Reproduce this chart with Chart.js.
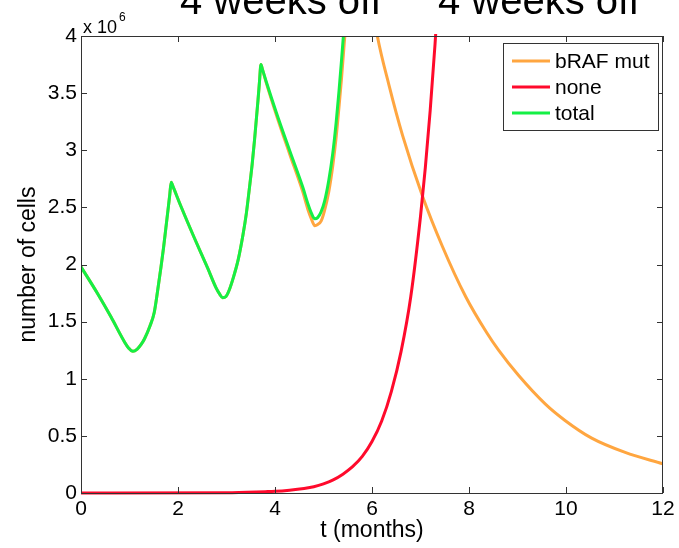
<!DOCTYPE html>
<html>
<head>
<meta charset="utf-8">
<script src="https://cdn.jsdelivr.net/npm/chart.js@4"></script>
<style>
  html, body { margin: 0; padding: 0; background: #fff; }
</style>
</head>
<body>
<canvas id="myChart" width="679" height="548"></canvas>
<script>
// values in units of 10^6 cells, time in months
const tMut = [0, 0.35, 0.62, 0.9, 0.98, 1.07, 1.16, 1.24, 1.31, 1.42, 1.51, 1.58, 1.65, 1.7, 1.75, 1.8, 1.83, 1.86, 1.89,
  2.06, 2.34, 2.61, 2.78, 2.86, 2.92, 2.99, 3.05, 3.13, 3.24, 3.34, 3.41, 3.47, 3.53, 3.58, 3.65, 3.68, 3.71, 3.74,
  3.82, 4.02, 4.3, 4.57, 4.68, 4.75, 4.82, 4.88, 4.95, 5.02, 5.11, 5.19, 5.26, 5.32, 5.37, 5.41, 5.46,
  5.6, 5.75, 5.9, 6.11, 6.35, 6.63, 7.04, 7.45, 7.93, 8.37, 8.61, 9.02, 9.57, 9.98, 10.53, 11.22, 12];
const bRafMut = [1.98, 1.74, 1.54, 1.32, 1.27, 1.24, 1.26, 1.30, 1.35, 1.46, 1.58, 1.77, 1.98, 2.14, 2.32, 2.50, 2.61, 2.72, 2.69,
  2.51, 2.23, 1.97, 1.80, 1.74, 1.71, 1.72, 1.77, 1.87, 2.04, 2.26, 2.45, 2.66, 2.88, 3.10, 3.44, 3.60, 3.75, 3.71,
  3.59, 3.32, 2.97, 2.64, 2.48, 2.40, 2.34, 2.35, 2.38, 2.47, 2.64, 2.86, 3.11, 3.38, 3.62, 3.84, 4.10,
  4.65, 4.80, 4.55, 4.00, 3.57, 3.13, 2.60, 2.16, 1.72, 1.40, 1.25, 1.03, 0.78, 0.635, 0.48, 0.355, 0.255];

const tNone = [0, 3.0, 3.8, 4.0, 4.3, 4.6, 4.8, 5.0, 5.2, 5.4, 5.6, 5.8, 6.0, 6.2, 6.4, 6.6, 6.8, 7.0, 7.1, 7.2, 7.3, 7.4];
const none = [0, 0.003, 0.012, 0.015, 0.025, 0.04, 0.055, 0.08, 0.115, 0.165, 0.23, 0.32, 0.45, 0.63, 0.89, 1.24, 1.72, 2.42, 2.85, 3.35, 3.93, 4.6];

const tTotal = [0, 0.35, 0.62, 0.9, 0.98, 1.07, 1.16, 1.24, 1.31, 1.42, 1.51, 1.58, 1.65, 1.7, 1.75, 1.8, 1.83, 1.86, 1.89,
  2.06, 2.34, 2.61, 2.78, 2.86, 2.92, 2.99, 3.05, 3.13, 3.24, 3.34, 3.41, 3.47, 3.53, 3.58, 3.65, 3.68, 3.71, 3.74,
  3.82, 4.02, 4.3, 4.57, 4.68, 4.75, 4.82, 4.88, 4.95, 5.02, 5.11, 5.19, 5.26, 5.32, 5.37, 5.41, 5.5, 5.6];
const total = [1.98, 1.74, 1.54, 1.32, 1.27, 1.24, 1.26, 1.30, 1.35, 1.46, 1.58, 1.77, 1.98, 2.14, 2.32, 2.50, 2.61, 2.72, 2.69,
  2.51, 2.23, 1.97, 1.80, 1.74, 1.71, 1.72, 1.77, 1.87, 2.04, 2.26, 2.45, 2.66, 2.88, 3.10, 3.44, 3.60, 3.75, 3.71,
  3.60, 3.34, 3.00, 2.68, 2.53, 2.45, 2.40, 2.41, 2.46, 2.55, 2.74, 2.97, 3.24, 3.52, 3.78, 4.00, 4.55, 5.10];

const xTicks = [0, 2, 4, 6, 8, 10, 12];
const yTicks = [0, 0.5, 1, 1.5, 2, 2.5, 3, 3.5, 4];
const yTickLabels = ['0', '0.5', '1', '1.5', '2', '2.5', '3', '3.5', '4'];

const FONT = '"Liberation Sans", Arial, Helvetica, sans-serif';
const colors = { mut: '#ffa640', none: '#ff0a2c', total: '#14f045' };

function pts(ts, vs) { return ts.map((t, i) => ({ x: t, y: vs[i] })); }

// MATLAB-style box, inward ticks, legend and the cut-off title
const matlabFrame = {
  id: 'matlabFrame',
  afterDatasetsDraw(chart) {
    const { ctx, chartArea: a, scales: { x, y } } = chart;
    ctx.save();
    ctx.strokeStyle = '#333';
    ctx.lineWidth = 1;
    ctx.strokeRect(a.left + 0.5, a.top + 0.5, a.width - 1, a.height);
    ctx.beginPath();
    xTicks.forEach(v => {
      const px = Math.round(x.getPixelForValue(v)) + 0.5;
      ctx.moveTo(px, a.bottom); ctx.lineTo(px, a.bottom - 6);
      ctx.moveTo(px, a.top); ctx.lineTo(px, a.top + 6);
    });
    yTicks.forEach(v => {
      const py = Math.round(y.getPixelForValue(v)) + 0.5;
      ctx.moveTo(a.left, py); ctx.lineTo(a.left + 6, py);
      ctx.moveTo(a.right, py); ctx.lineTo(a.right - 6, py);
    });
    ctx.stroke();

    // legend
    const lx = 503, ly = 43, lw = 155, lh = 87;
    ctx.fillStyle = '#fff';
    ctx.fillRect(lx, ly, lw, lh);
    ctx.strokeStyle = '#333';
    ctx.strokeRect(lx + 0.5, ly + 0.5, lw, lh);
    const rowY = [61, 87, 113];
    ctx.font = '21px ' + FONT;
    ctx.textBaseline = 'middle';
    chart.data.datasets.forEach((ds, i) => {
      ctx.strokeStyle = ds.borderColor;
      ctx.lineWidth = 3;
      ctx.beginPath();
      ctx.moveTo(512, rowY[i]); ctx.lineTo(550, rowY[i]);
      ctx.stroke();
      ctx.fillStyle = '#000';
      ctx.fillText(ds.label, 555, rowY[i] + 1);
    });

    // exponent
    ctx.textBaseline = 'alphabetic';
    ctx.fillStyle = '#000';
    ctx.font = '18px ' + FONT;
    ctx.fillText('x 10', 83, 33);
    ctx.font = '12px ' + FONT;
    ctx.fillText('6', 119, 21);

    // title, cropped at the top of the image
    ctx.font = '40px ' + FONT;
    ctx.fillText('4 weeks off', 180, 14);
    ctx.fillText('4 weeks off', 438, 14);
    ctx.restore();
  }
};

const ctx = document.getElementById('myChart').getContext('2d');
const myChart = new Chart(ctx, {
  type: 'line',
  data: {
    datasets: [
      { label: 'bRAF mut', data: pts(tMut, bRafMut), borderColor: colors.mut, order: 3 },
      { label: 'none', data: pts(tNone, none), borderColor: colors.none, order: 2, clip: { left: 2, top: 2, right: 2, bottom: 3 } },
      { label: 'total', data: pts(tTotal, total), borderColor: colors.total, order: 1 }
    ]
  },
  options: {
    responsive: false,
    animation: false,
    parsing: false,
    elements: {
      line: { borderWidth: 3, fill: false, cubicInterpolationMode: 'monotone' },
      point: { radius: 0 }
    },
    layout: { padding: { left: 0, right: 16, top: 36, bottom: 0 } },
    plugins: { legend: { display: false }, tooltip: { enabled: false } },
    scales: {
      x: {
        type: 'linear', min: 0, max: 12,
        afterBuildTicks: s => { s.ticks = xTicks.map(v => ({ value: v })); },
        afterFit: s => { s.height = 55; },
        ticks: { color: '#000', font: { family: FONT, size: 21 }, padding: 4, maxRotation: 0 },
        grid: { display: false, drawTicks: false },
        border: { display: false },
        title: { display: true, text: 't (months)', color: '#000', font: { family: FONT, size: 23 }, padding: { top: 0, bottom: 4 } }
      },
      y: {
        type: 'linear', min: 0, max: 4,
        afterBuildTicks: s => { s.ticks = yTicks.map(v => ({ value: v })); },
        afterFit: s => { s.width = 81; },
        ticks: { color: '#000', font: { family: FONT, size: 21 }, padding: 4, callback: (v, i) => yTickLabels[i] },
        grid: { display: false, drawTicks: false },
        border: { display: false },
        title: { display: true, text: 'number of cells', color: '#000', font: { family: FONT, size: 23 }, padding: { top: 15, bottom: 0 } }
      }
    }
  },
  plugins: [matlabFrame]
});
</script>
</body>
</html>
